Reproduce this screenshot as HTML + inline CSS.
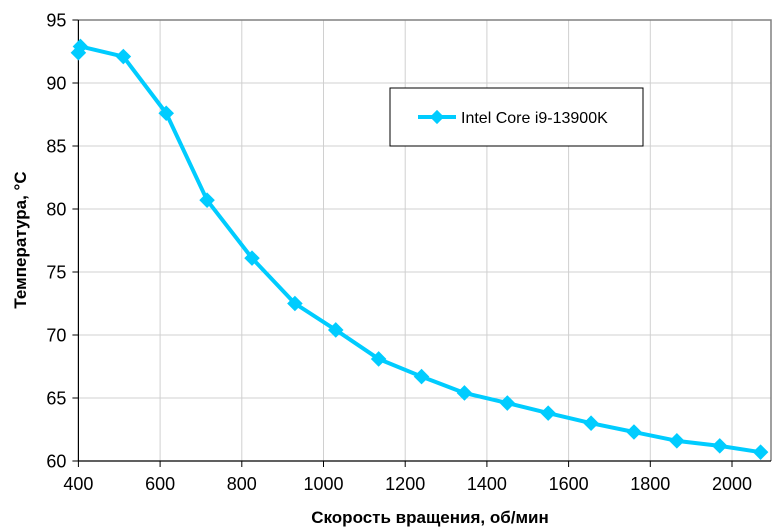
<!DOCTYPE html>
<html><head><meta charset="utf-8"><style>
body{margin:0;background:#fff;}
svg{display:block;font-family:"Liberation Sans",sans-serif;}
</style></head><body>
<svg id="chart" width="780" height="532">
<g id="grid"></g>
<g id="axes"></g>
<g id="series"></g>
<text x="430" y="523" text-anchor="middle" font-size="17" font-weight="bold">Скорость вращения, об/мин</text>
<text transform="translate(26,240) rotate(-90)" text-anchor="middle" font-size="17" font-weight="bold">Температура, °C</text>
<g>
<rect x="390" y="88" width="253" height="58" fill="#fff" stroke="#000" stroke-width="1"/>
<line x1="418" y1="117" x2="456" y2="117" stroke="#00ccff" stroke-width="4"/>
<rect x="432" y="112" width="10" height="10" fill="#00ccff" transform="rotate(45 437 117)"/>
<text x="461" y="123" font-size="16">Intel Core i9-13900K</text>
</g>
</svg>
<script>
const xs=[400,405,510,615,715,825,930,1030,1135,1240,1345,1450,1550,1655,1760,1865,1970,2070];
const temps=[92.4,92.9,92.1,87.6,80.7,76.1,72.5,70.4,68.1,66.7,65.4,64.6,63.8,63.0,62.3,61.6,61.2,60.7];
const xTicks=[400,600,800,1000,1200,1400,1600,1800,2000];
const yTicks=[60,65,70,75,80,85,90,95];
const NS="http://www.w3.org/2000/svg";
const L=78.4,R=771,T=20,B=461;
function X(v){return L+(v-400)*0.4085;}
function Y(v){return B-(v-60)*(B-T)/35;}
function mk(tag,attrs,parent){const e=document.createElementNS(NS,tag);for(const k in attrs)e.setAttribute(k,attrs[k]);parent.appendChild(e);return e;}
const grid=document.getElementById('grid'),axes=document.getElementById('axes'),ser=document.getElementById('series');
yTicks.forEach(t=>{
 const g=mk('line',{x1:L,x2:R,y1:Y(t),y2:Y(t),stroke:'#d0d0d0','stroke-width':1},grid);
 
 
 const tk=mk('line',{x1:L-6,x2:L,y1:Y(t),y2:Y(t),stroke:'#000'},axes);
 
 
 const tx=mk('text',{x:L-12,y:Y(t)+6.5,'text-anchor':'end','font-size':18},axes);
 tx.textContent=t;
 
 
});
xTicks.forEach(t=>{
 if(t>400){const g=mk('line',{x1:X(t),x2:X(t),y1:T,y2:B,stroke:'#d0d0d0','stroke-width':1},grid);
 
 }
 const tk=mk('line',{x1:X(t),x2:X(t),y1:B,y2:B+6,stroke:'#000'},axes);
 
 
 const tx=mk('text',{x:X(t),y:B+29,'text-anchor':'middle','font-size':18},axes);
 tx.textContent=t;
 
 
});
const fr=mk('path',{d:`M${L} ${T}H${R}V${B}`,fill:'none',stroke:'#808080','stroke-width':1.5},axes);


const ax=mk('path',{d:`M${L} ${T}V${B}H${R}`,fill:'none',stroke:'#000','stroke-width':1.2},axes);


const pl=mk('polyline',{points:xs.map((x,i)=>X(x)+','+Y(temps[i])).join(' '),fill:'none',stroke:'#00ccff','stroke-width':4,'stroke-linejoin':'round'},ser);


xs.forEach((x,i)=>{
 const cx=X(x),cy=Y(temps[i]);
 const m=mk('rect',{x:cx-5.5,y:cy-5.5,width:11,height:11,fill:'#00ccff',transform:`rotate(45 ${cx} ${cy})`},ser);
 
 
});
</script>
</body></html>
